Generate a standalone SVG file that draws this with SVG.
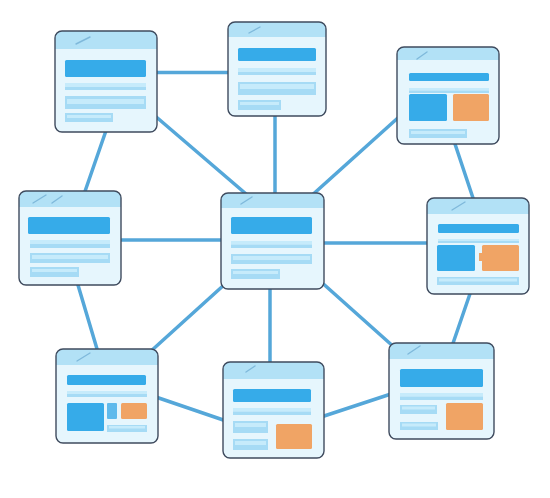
<svg xmlns="http://www.w3.org/2000/svg" width="550" height="498" viewBox="0 0 550 498">
<style>
.edge{stroke:#55a7d9;stroke-width:3.5;stroke-linecap:round;fill:none}
.body{fill:#e6f6fd}
.hdr{fill:#b2e1f6}
.frame{fill:none;stroke:#3f4b5e;stroke-width:1.4}
.slash{stroke:#7fb9db;stroke-width:1.4;stroke-linecap:round}
.blue{fill:#36abe9}
.org{fill:#f0a465}
.lt{fill:#a6dbf5}
.lt2{fill:#c6ebfb}
</style>
<rect width="550" height="498" fill="#ffffff"/>
<g id="connectors">
<line class="edge" x1="150" y1="72.5" x2="235" y2="72.5"/>
<line class="edge" x1="140" y1="103" x2="260" y2="206"/>
<line class="edge" x1="410" y1="107" x2="300" y2="206"/>
<line class="edge" x1="109" y1="122" x2="82" y2="200"/>
<line class="edge" x1="452" y1="135" x2="476" y2="207"/>
<line class="edge" x1="75" y1="275" x2="100" y2="359"/>
<line class="edge" x1="235" y1="275" x2="140" y2="361"/>
<line class="edge" x1="310" y1="272" x2="404" y2="356"/>
<line class="edge" x1="473" y1="285" x2="450" y2="352"/>
<line class="edge" x1="150" y1="395" x2="235" y2="424"/>
<line class="edge" x1="312" y1="420" x2="400" y2="391"/>
<line class="edge" x1="275" y1="110" x2="275" y2="200"/>
<line class="edge" x1="115" y1="240" x2="230" y2="240"/>
<line class="edge" x1="318" y1="243" x2="435" y2="243"/>
<line class="edge" x1="270" y1="280" x2="270" y2="370"/>
</g>

<g id="node1">
<rect class="body" x="55" y="31" width="102" height="101" rx="7"/>
<path class="hdr" d="M55,49 V38 Q55,31 62,31 H150 Q157,31 157,38 V49 Z"/>
<line class="slash" x1="76" y1="44" x2="90" y2="37"/>
<rect class="blue" x="65" y="60" width="81" height="17" rx="1.5"/>
<rect class="lt2" x="65" y="83" width="81" height="4"/>
<rect class="lt" x="65" y="87" width="81" height="3"/>
<rect class="lt" x="65" y="96" width="81" height="13"/>
<rect class="lt2" x="67" y="99" width="77" height="5"/>
<rect class="lt" x="65" y="113" width="48" height="9"/>
<rect class="lt2" x="67" y="115" width="44" height="3"/>
<rect class="frame" x="55" y="31" width="102" height="101" rx="7"/>
</g>

<g id="node2">
<rect class="body" x="228" y="22" width="98" height="94" rx="7"/>
<path class="hdr" d="M228,37 V29 Q228,22 235,22 H319 Q326,22 326,29 V37 Z"/>
<line class="slash" x1="249" y1="33" x2="260" y2="27"/>
<rect class="blue" x="238" y="48" width="78" height="13" rx="1.5"/>
<rect class="lt2" x="238" y="68" width="78" height="4"/>
<rect class="lt" x="238" y="72" width="78" height="3"/>
<rect class="lt" x="238" y="82" width="78" height="13"/>
<rect class="lt2" x="240" y="84" width="74" height="5"/>
<rect class="lt" x="238" y="100" width="43" height="10"/>
<rect class="lt2" x="240" y="102" width="39" height="3"/>
<rect class="frame" x="228" y="22" width="98" height="94" rx="7"/>
</g>

<g id="node3">
<rect class="body" x="397" y="47" width="102" height="97" rx="7"/>
<path class="hdr" d="M397,60 V54 Q397,47 404,47 H492 Q499,47 499,54 V60 Z"/>
<line class="slash" x1="417" y1="59" x2="427" y2="52"/>
<rect class="blue" x="409" y="73" width="80" height="8" rx="1.5"/>
<rect class="lt2" x="409" y="88" width="80" height="2.5"/>
<rect class="lt" x="409" y="90.5" width="80" height="2.5"/>
<rect class="blue" x="409" y="94" width="38" height="27" rx="1.5"/>
<rect class="org" x="453" y="94" width="36" height="27" rx="1.5"/>
<rect class="lt" x="409" y="129" width="58" height="9"/>
<rect class="lt2" x="411" y="131" width="54" height="3"/>
<rect class="frame" x="397" y="47" width="102" height="97" rx="7"/>
</g>

<g id="node4">
<rect class="body" x="19" y="191" width="102" height="94" rx="7"/>
<path class="hdr" d="M19,207 V198 Q19,191 26,191 H114 Q121,191 121,198 V207 Z"/>
<line class="slash" x1="33" y1="203" x2="46" y2="195"/>
<line class="slash" x1="52" y1="203" x2="62" y2="196"/>
<rect class="blue" x="28" y="217" width="82" height="17" rx="1.5"/>
<rect class="lt2" x="30" y="240" width="80" height="4"/>
<rect class="lt" x="30" y="244" width="80" height="4"/>
<rect class="lt" x="30" y="253" width="80" height="10"/>
<rect class="lt2" x="32" y="255" width="76" height="4"/>
<rect class="lt" x="30" y="267" width="49" height="10"/>
<rect class="lt2" x="32" y="269" width="45" height="3"/>
<rect class="frame" x="19" y="191" width="102" height="94" rx="7"/>
</g>

<g id="node5">
<rect class="body" x="221" y="193" width="103" height="96" rx="7"/>
<path class="hdr" d="M221,208 V200 Q221,193 228,193 H317 Q324,193 324,200 V208 Z"/>
<line class="slash" x1="241" y1="204" x2="252" y2="197"/>
<rect class="blue" x="231" y="217" width="81" height="17" rx="1.5"/>
<rect class="lt2" x="231" y="241" width="81" height="3.5"/>
<rect class="lt" x="231" y="244.5" width="81" height="3.5"/>
<rect class="lt" x="231" y="254" width="81" height="10"/>
<rect class="lt2" x="233" y="256" width="77" height="4"/>
<rect class="lt" x="231" y="269" width="49" height="10"/>
<rect class="lt2" x="233" y="271" width="45" height="3"/>
<rect class="frame" x="221" y="193" width="103" height="96" rx="7"/>
</g>

<g id="node6">
<rect class="body" x="427" y="198" width="102" height="96" rx="7"/>
<path class="hdr" d="M427,214 V205 Q427,198 434,198 H522 Q529,198 529,205 V214 Z"/>
<line class="slash" x1="452" y1="210" x2="465" y2="202"/>
<rect class="blue" x="438" y="224" width="81" height="9" rx="1.5"/>
<rect class="lt2" x="438" y="239" width="81" height="2"/>
<rect class="lt" x="438" y="241" width="81" height="2"/>
<rect class="blue" x="437" y="245" width="38" height="26" rx="1.5"/>
<rect class="org" x="482" y="245" width="37" height="26" rx="1.5"/>
<rect class="org" x="479" y="253" width="4" height="8"/>
<rect class="lt" x="437" y="277" width="82" height="8"/>
<rect class="lt2" x="439" y="278.5" width="78" height="3"/>
<rect class="frame" x="427" y="198" width="102" height="96" rx="7"/>
</g>

<g id="node7">
<rect class="body" x="56" y="349" width="102" height="94" rx="7"/>
<path class="hdr" d="M56,365 V356 Q56,349 63,349 H151 Q158,349 158,356 V365 Z"/>
<line class="slash" x1="77" y1="361" x2="90" y2="353"/>
<rect class="blue" x="67" y="375" width="79" height="10" rx="1.5"/>
<rect class="lt2" x="67" y="391" width="80" height="3"/>
<rect class="lt" x="67" y="394" width="80" height="3"/>
<rect class="blue" x="67" y="403" width="37" height="28" rx="1.5"/>
<rect fill="#5fbaec" x="107" y="403" width="10" height="16" rx="1"/>
<rect class="org" x="121" y="403" width="26" height="16" rx="1.5"/>
<rect class="lt" x="107" y="425" width="40" height="7"/>
<rect class="lt2" x="109" y="426" width="36" height="2.5"/>
<rect class="frame" x="56" y="349" width="102" height="94" rx="7"/>
</g>

<g id="node8">
<rect class="body" x="223" y="362" width="101" height="96" rx="7"/>
<path class="hdr" d="M223,379 V369 Q223,362 230,362 H317 Q324,362 324,369 V379 Z"/>
<line class="slash" x1="246" y1="372" x2="255" y2="366"/>
<rect class="blue" x="233" y="389" width="78" height="13" rx="1.5"/>
<rect class="lt2" x="233" y="408" width="78" height="3.5"/>
<rect class="lt" x="233" y="411.5" width="78" height="3.5"/>
<rect class="lt" x="233" y="421" width="35" height="12"/>
<rect class="lt2" x="235" y="423" width="31" height="4"/>
<rect class="lt" x="233" y="439" width="35" height="11"/>
<rect class="lt2" x="235" y="441" width="31" height="4"/>
<rect class="org" x="276" y="424" width="36" height="25" rx="1.5"/>
<rect class="frame" x="223" y="362" width="101" height="96" rx="7"/>
</g>

<g id="node9">
<rect class="body" x="389" y="343" width="105" height="96" rx="7"/>
<path class="hdr" d="M389,359 V350 Q389,343 396,343 H487 Q494,343 494,350 V359 Z"/>
<line class="slash" x1="408" y1="354" x2="420" y2="346"/>
<rect class="blue" x="400" y="369" width="83" height="18" rx="1.5"/>
<rect class="lt2" x="400" y="393" width="83" height="3.5"/>
<rect class="lt" x="400" y="396.5" width="83" height="3.5"/>
<rect class="lt" x="400" y="405" width="37" height="9"/>
<rect class="lt2" x="402" y="406.5" width="33" height="3"/>
<rect class="lt" x="400" y="422" width="38" height="8"/>
<rect class="lt2" x="402" y="423.5" width="34" height="3"/>
<rect class="org" x="446" y="403" width="37" height="27" rx="1.5"/>
<rect class="frame" x="389" y="343" width="105" height="96" rx="7"/>
</g>
</svg>
